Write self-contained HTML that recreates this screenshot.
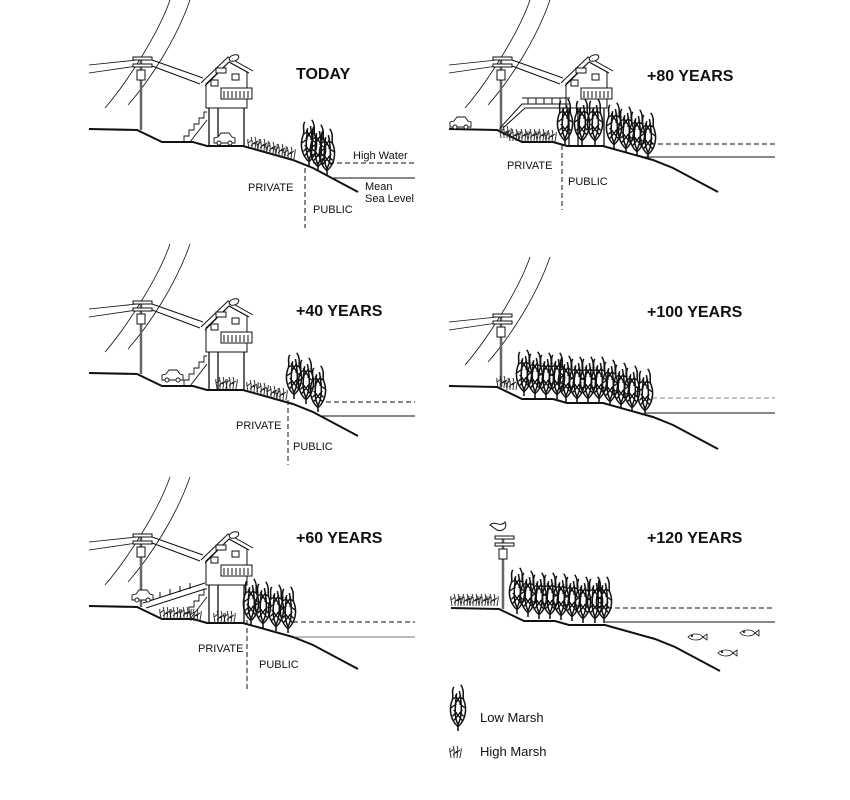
<!DOCTYPE html>
<html><head><meta charset="utf-8"><style>
html,body{margin:0;padding:0;background:#fff}
svg{display:block}
text{font-family:"Liberation Sans",Arial,sans-serif;fill:#111}
.t{font-weight:bold;font-size:16px}
.l{font-size:11px}
</style></head><body>
<svg width="850" height="800" viewBox="0 0 850 800" xmlns="http://www.w3.org/2000/svg">
<defs>
<g id="lm" fill="none" stroke="#111" stroke-width="1.1">
<g transform="scale(1.4,1.05)">
<path d="M0,0 L0,-6 M0,-4 C-5,-10 -7,-20 -4,-30 C-3,-34 -5,-38 -3,-42 M0,-4 C5,-10 7,-20 4,-30 C3,-34 5,-38 2,-44 M0,-6 C-3,-14 -2,-24 -1,-36 M0,-6 C3,-14 3,-24 1,-38 M-4,-14 L-1,-18 M4,-14 L1,-18 M-5,-22 L-1,-26 M5,-22 L1,-26 M-4,-30 L-1,-33 M4,-30 L1,-33 M-3,-10 L3,-20 M3,-10 L-3,-20 M-2,-26 L2,-34 M2,-26 L-2,-34"/>
</g>
</g>
<g id="hm" fill="none" stroke="#222" stroke-width="0.9">
<path d="M-5,0 C-5,-4 -7,-7 -6,-10 M-2,0 C-2,-5 -1,-8 -3,-12 M1,0 C1,-4 3,-8 1,-12 M4,0 C4,-4 6,-7 5,-10 M-6,-6 L-2,-9 M0,-5 L4,-8 M-3,-3 L1,-7"/>
</g>
<g id="pole" fill="none" stroke="#111" stroke-width="1">
<line x1="141" y1="58" x2="141" y2="130" stroke="#666" stroke-width="2.5"/>
<rect x="133" y="57" width="19" height="3" fill="#fff"/>
<rect x="133" y="64" width="19" height="3" fill="#fff"/>
<rect x="137" y="70" width="8" height="10" fill="#fff"/>
</g>
<g id="wires" fill="none" stroke="#111" stroke-width="0.8">
<path d="M170,0 C158,35 125,85 105,108 M190,0 C176,40 150,80 128,105 M89,65 L137,60 M89,73 L137,66"/>
</g>
<g id="house" fill="#fff" stroke="#111" stroke-width="1">
<path d="M152,60 L203,78 M152,66 L200,84" fill="none"/>
<path d="M206,84 L206,108 L247,108 L247,72 L229,62 Z"/>
<path d="M201,83 L228,57 L253,71 M205,86 L229,62 L249,73" fill="none"/>
<rect x="216" y="68" width="10" height="5"/>
<rect x="211" y="80" width="7" height="6"/>
<rect x="232" y="74" width="7" height="6"/>
<rect x="221" y="88" width="31" height="11"/>
<path d="M224,91 L224,98 M228,91 L228,98 M232,91 L232,98 M236,91 L236,98 M240,91 L240,98 M244,91 L244,98 M248,91 L248,98" fill="none"/>
<path d="M209,108 L209,146 M218,108 L218,146 M244,108 L244,146" fill="none" stroke-width="1.3"/>
<ellipse cx="234" cy="58" rx="5" ry="3" transform="rotate(-20 234 58)"/>
</g>
<g id="stairs" fill="none" stroke="#111" stroke-width="0.9">
<path d="M184,142 L184,136 L189,136 L189,130 L194,130 L194,124 L199,124 L199,118 L204,118 L204,112 L207,112 M190,142 L207,120"/>
</g>
<g id="car" fill="#fff" stroke="#111" stroke-width="0.9">
<path d="M0,10 L0,5 L4,4 L7,0 L15,0 L18,4 L21,5 L21,10 Z"/>
<circle cx="5" cy="10" r="2"/><circle cx="16" cy="10" r="2"/>
</g>
<path id="ground" d="M89,129 L137,130 L162,142 L193,142 L207,146 L243,146 L293,160 L313,168 L358,192" fill="none" stroke="#111" stroke-width="2"/>
<g id="fish" fill="#fff" stroke="#111" stroke-width="0.8">
<path d="M0,0 C4,-4 12,-4 15,0 L19,-3 L19,3 L15,0 C12,4 4,4 0,0 Z"/><circle cx="4" cy="-1" r="0.7"/>
</g>
</defs>

<g stroke="#111" stroke-width="1" fill="none">
<use href="#wires"/><use href="#pole"/><use href="#house"/><use href="#stairs"/>
<use href="#car" x="214" y="133"/>
<use href="#ground"/>
<path d="M313,163 L415,163" stroke-dasharray="5,3"/>
<path d="M333,178 L415,178"/>
<path d="M305,168 L305,228" stroke-dasharray="5,3"/>

<g transform="translate(360,0)">
<use href="#wires"/><use href="#pole"/><use href="#house"/>
<use href="#ground"/>
<path d="M140,128 L162,104 L210,104 M162,98 L210,98 M143,128 L165,108 L210,108"/>
<path d="M168,98 L168,104 M176,98 L176,104 M184,98 L184,104 M192,98 L192,104 M200,98 L200,104"/>
</g>
<use href="#car" x="450" y="117"/>
<path d="M650,144 L775,144" stroke-dasharray="5,3"/>
<path d="M640,157 L775,157"/>
<path d="M562,145 L562,210" stroke-dasharray="5,3"/>

<g transform="translate(0,244)">
<use href="#wires"/><use href="#pole"/><use href="#house"/><use href="#stairs"/>
<use href="#ground"/>
</g>
<use href="#car" x="162" y="370"/>
<path d="M326,402 L415,402" stroke-dasharray="5,3"/>
<path d="M322,416 L415,416"/>
<path d="M288,400 L288,465" stroke-dasharray="5,3"/>

<g transform="translate(0,477)">
<use href="#wires"/><use href="#pole"/><use href="#house"/><use href="#stairs"/>
<use href="#ground"/>
<path d="M143,126 L205,106 M146,131 L205,112 M150,118 L150,124 M160,115 L160,121 M170,112 L170,118 M180,109 L180,115 M190,106 L190,112"/>
</g>
<use href="#car" x="132" y="590"/>
<path d="M293,622 L415,622" stroke-dasharray="5,3"/>
<path d="M295,637 L415,637" stroke="#777"/>
<path d="M247,620 L247,690" stroke-dasharray="5,3"/>

<g transform="translate(360,257)">
<use href="#wires"/><use href="#pole"/>
<use href="#ground"/>
</g>
<path d="M652,398 L775,398" stroke-dasharray="5,3" stroke="#888"/>
<path d="M645,413 L775,413"/>

<g transform="translate(362,479)">
<use href="#pole"/>
<use href="#ground"/>
</g>
<path d="M490,525 C495,520 500,528 505,522 C508,528 502,532 497,530 Z" fill="#fff"/>
<path d="M607,608 L775,608" stroke-dasharray="5,3"/>
<path d="M605,622 L775,622"/>
</g>

<use href="#hm" x="254" y="149"/><use href="#hm" x="263" y="151"/><use href="#hm" x="272" y="154"/><use href="#hm" x="281" y="156"/><use href="#hm" x="290" y="159"/>
<use href="#lm" x="309" y="166"/><use href="#lm" x="318" y="171"/><use href="#lm" x="327" y="175"/>
<use href="#hm" x="506" y="138"/><use href="#hm" x="515" y="141"/><use href="#hm" x="524" y="141"/><use href="#hm" x="533" y="141"/><use href="#hm" x="542" y="141"/><use href="#hm" x="551" y="142"/>
<use href="#lm" x="565" y="145"/><use href="#lm" x="582" y="145"/><use href="#lm" x="595" y="145"/>
<use href="#lm" x="614" y="149"/><use href="#lm" x="626" y="153"/><use href="#lm" x="637" y="156"/><use href="#lm" x="648" y="159"/>
<use href="#hm" x="222" y="389"/><use href="#hm" x="232" y="389"/>
<use href="#hm" x="253" y="392"/><use href="#hm" x="263" y="395"/><use href="#hm" x="273" y="398"/><use href="#hm" x="282" y="400"/>
<use href="#lm" x="294" y="399"/><use href="#lm" x="306" y="404"/><use href="#lm" x="318" y="412"/>
<use href="#hm" x="166" y="619"/><use href="#hm" x="176" y="619"/><use href="#hm" x="186" y="619"/><use href="#hm" x="196" y="621"/>
<use href="#hm" x="220" y="623"/><use href="#hm" x="230" y="623"/>
<use href="#lm" x="251" y="625"/><use href="#lm" x="263" y="628"/><use href="#lm" x="276" y="631"/><use href="#lm" x="288" y="633"/>
<use href="#hm" x="503" y="388"/><use href="#hm" x="512" y="390"/>
<use href="#lm" x="524" y="396"/><use href="#lm" x="535" y="398"/><use href="#lm" x="546" y="399"/><use href="#lm" x="557" y="399"/><use href="#lm" x="566" y="402"/><use href="#lm" x="577" y="403"/><use href="#lm" x="588" y="403"/><use href="#lm" x="599" y="403"/><use href="#lm" x="610" y="406"/><use href="#lm" x="621" y="409"/><use href="#lm" x="632" y="412"/><use href="#lm" x="645" y="415"/>
<use href="#hm" x="457" y="606"/><use href="#hm" x="466" y="606"/><use href="#hm" x="475" y="606"/><use href="#hm" x="484" y="606"/><use href="#hm" x="493" y="606"/>
<use href="#lm" x="517" y="614"/><use href="#lm" x="528" y="617"/><use href="#lm" x="539" y="619"/><use href="#lm" x="550" y="619"/><use href="#lm" x="561" y="620"/><use href="#lm" x="572" y="621"/><use href="#lm" x="583" y="623"/><use href="#lm" x="595" y="623"/><use href="#lm" x="604" y="623"/>
<use href="#fish" x="688" y="637"/><use href="#fish" x="740" y="633"/><use href="#fish" x="718" y="653"/>

<use href="#lm" x="458" y="731"/>
<use href="#hm" x="456" y="758"/>
<text x="480" y="722" style="font-size:13px">Low Marsh</text>
<text x="480" y="756" style="font-size:13px">High Marsh</text>

<text class="t" x="296" y="79">TODAY</text>
<text class="t" x="647" y="81">+80 YEARS</text>
<text class="t" x="296" y="316">+40 YEARS</text>
<text class="t" x="647" y="317">+100 YEARS</text>
<text class="t" x="296" y="543">+60 YEARS</text>
<text class="t" x="647" y="543">+120 YEARS</text>

<text class="l" x="353" y="159">High Water</text>
<text class="l" x="365" y="190">Mean</text>
<text class="l" x="365" y="202">Sea Level</text>
<text class="l" x="248" y="191">PRIVATE</text>
<text class="l" x="313" y="213">PUBLIC</text>
<text class="l" x="507" y="169">PRIVATE</text>
<text class="l" x="568" y="185">PUBLIC</text>
<text class="l" x="236" y="429">PRIVATE</text>
<text class="l" x="293" y="450">PUBLIC</text>
<text class="l" x="198" y="652">PRIVATE</text>
<text class="l" x="259" y="668">PUBLIC</text>
</svg>
</body></html>
